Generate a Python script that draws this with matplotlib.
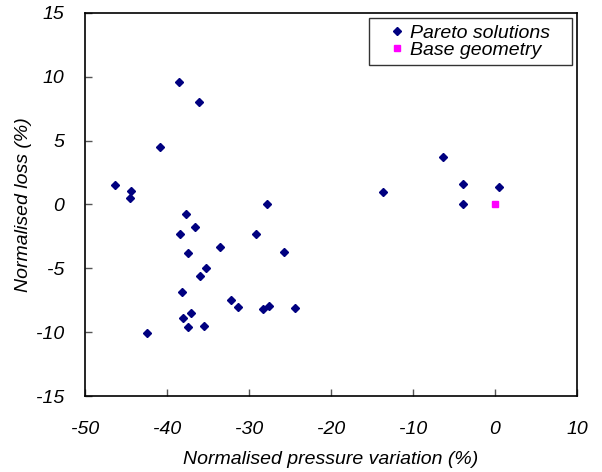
import matplotlib
matplotlib.use("Agg")
import matplotlib.pyplot as plt

# Pareto solutions (normalised pressure variation %, normalised loss %)
pareto_x = [-38.5, -36.1, -40.9, -46.3, -44.35, -44.5, -37.7, -36.6, -38.4, -29.2,
            -27.8, -6.3, -3.9, 0.5, -13.7, -3.9, -33.5, -37.5, -25.7, -35.3,
            -36.0, -38.2, -32.2, -31.4, -28.25, -27.6, -24.4, -37.1, -38.05, -37.5,
            -35.5, -42.5]
pareto_y = [9.6, 8.05, 4.5, 1.55, 1.08, 0.51, -0.77, -1.79, -2.3, -2.3,
            0.05, 3.7, 1.58, 1.35, 0.95, 0.05, -3.3, -3.82, -3.72, -4.95,
            -5.57, -6.88, -7.48, -8.03, -8.21, -7.97, -8.08, -8.5, -8.91, -9.62,
            -9.51, -10.04]

base_x = [0.0]
base_y = [0.0]

plt.rcParams['font.family'] = ['Liberation Sans', 'DejaVu Sans']
plt.rcParams['font.style'] = 'italic'
plt.rcParams['axes.unicode_minus'] = False

fig = plt.figure(figsize=(6.02, 4.72), dpi=100)
ax = fig.add_axes([0.1412, 0.161, 0.8173, 0.8115])

ax.plot(pareto_x, pareto_y, linestyle='none', marker='D', markersize=4.5,
        color='#000080', label='Pareto solutions')
ax.plot(base_x, base_y, linestyle='none', marker='s', markersize=5,
        color='#FF00FF', label='Base geometry')

ax.set_xlim(-50, 10)
ax.set_ylim(-15, 15)
ax.set_xticks(range(-50, 11, 10))
ax.set_yticks(range(-15, 16, 5))
ax.tick_params(direction='in', length=5, width=1, color='#555555', labelsize=14)
ax.tick_params(axis='x', pad=18)
ax.tick_params(axis='y', pad=15)

for s in ax.spines.values():
    s.set_linewidth(1.2)
    s.set_color('black')

ax.set_xlabel('Normalised pressure variation (%)', fontsize=14, labelpad=9)
ax.set_ylabel('Normalised loss (%)', fontsize=14, labelpad=3)

# legend box spans the top-right corner like the original
leg = ax.legend(loc='upper right', bbox_to_anchor=(0.577, 0.0, 0.413, 0.987),
                mode='expand', borderaxespad=0, fancybox=False,
                edgecolor='#333333', framealpha=1, handletextpad=-0.45,
                borderpad=0.31, labelspacing=0.0, handlelength=2.27,
                prop={'size': 14, 'style': 'italic'})
leg.get_frame().set_linewidth(1.0)

fig.savefig('out.png', dpi=100)
